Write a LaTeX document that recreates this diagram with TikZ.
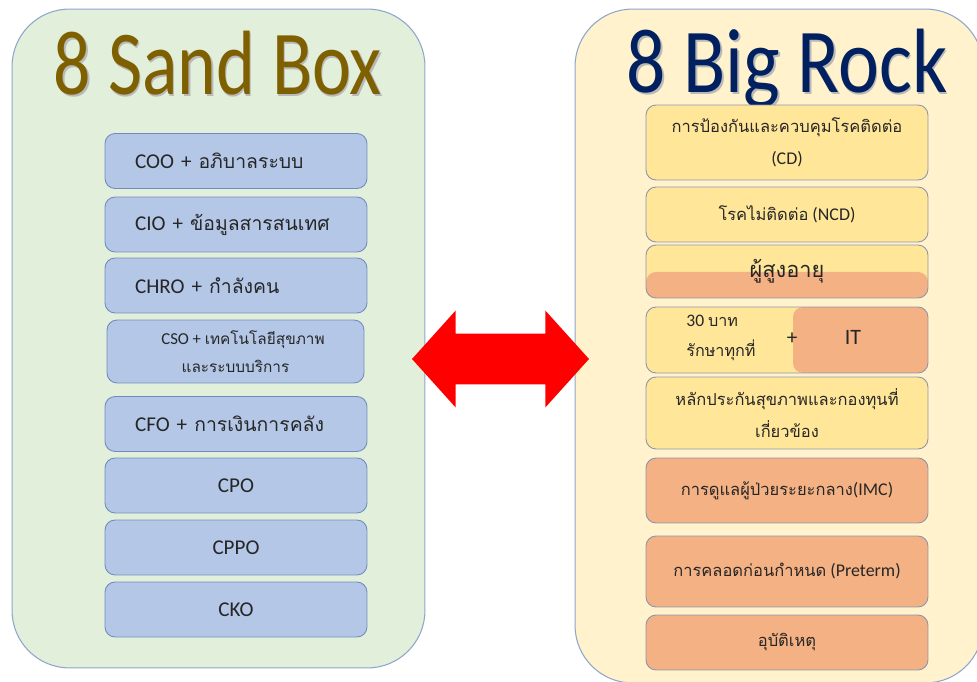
\documentclass[tikz,border=0pt]{standalone}
\usepackage{fontspec}
\usepackage{graphicx}
\setmainfont{Carlito}
\newfontfamily\thai[Script=Thai, Scale=0.92]{Loma}
\usepackage{tikz}
\usetikzlibrary{shapes.arrows, positioning}
\definecolor{sandbg}{RGB}{226,239,218}
\definecolor{rockbg}{RGB}{255,242,204}
\definecolor{panelline}{RGB}{143,166,204}
\definecolor{sandfill}{RGB}{180,199,231}
\definecolor{sandline}{RGB}{112,140,190}
\definecolor{rockyellow}{RGB}{255,230,153}
\definecolor{rocksalmon}{RGB}{244,177,131}
\definecolor{rockline}{RGB}{140,150,170}
\definecolor{sandtitle}{RGB}{127,96,0}
\definecolor{rocktitle}{RGB}{0,32,96}
\definecolor{textdark}{RGB}{38,38,38}
\definecolor{shade}{RGB}{185,185,185}
\tikzset{
  panel/.style={rectangle, draw=panelline, line width=0.6pt,
    rounded corners=1.15cm, inner sep=0pt},
  sandbox/.style={rectangle, draw=sandline, fill=sandfill,
    minimum width=5.24cm, minimum height=1.1cm, inner sep=0pt,
    rounded corners=0.2cm, line width=0.5pt, text=textdark,
    font=\fontsize{12}{14}\selectfont},
  leftpad/.style={text width=4.64cm, align=left, inner xsep=0.3cm,
    execute at begin node=\hspace*{0.3cm}},
  rockbox/.style={rectangle, draw=rockline, fill=rockyellow,
    minimum width=5.64cm, minimum height=1.1cm, inner sep=0pt,
    rounded corners=0.2cm, line width=0.5pt, text=textdark, align=center,
    font=\fontsize{10.2}{18.5}\selectfont},
  hottail/.style={path picture={\fill[rocksalmon]
    (path picture bounding box.south west) rectangle
    ([yshift=0.52cm]path picture bounding box.south east);}},
  hotside/.style={path picture={\fill[rocksalmon, rounded corners=0.2cm]
    ([xshift=-2.7cm]path picture bounding box.north east) rectangle
    (path picture bounding box.south east);}},
  title/.style={anchor=base, font=\fontsize{52}{60}\selectfont}
}
\begin{document}
\begin{tikzpicture}[x=0.02cm, y=-0.02cm]
  \useasboundingbox (0,0) rectangle (977,682);
  \fill[white] (0,0) rectangle (977,682);

  % Panels
  \node[panel, fill=sandbg, minimum width=8.26cm, minimum height=13.18cm] (sandpanel) at (218.5,338.5) {};
  \node[panel, fill=rockbg, minimum width=8.16cm, minimum height=13.48cm] (rockpanel) at (779,346) {};

  % Titles
  \node[title, text=shade] (sandshadow) at (219.5,96.5) {\scalebox{0.81}[1]{8 Sand Box}};
  \node[title, text=sandtitle] (sandtitle) at (218,95) {\scalebox{0.81}[1]{8 Sand Box}};
  \node[title, text=shade] (rockshadow) at (788.5,94.5) {\scalebox{0.85}[1]{8 Big Rock}};
  \node[title, text=rocktitle] (rocktitle) at (787,93) {\scalebox{0.85}[1]{8 Big Rock}};

  % Sand Box column
  \node[sandbox, leftpad] (coo) at (236,161) {COO + {\thai อภิบาลระบบ}};
  \node[sandbox, leftpad] (cio) at (236,224.5) {CIO + {\thai ข้อมูลสารสนเทศ}};
  \node[sandbox, leftpad] (chro) at (236,285.5) {CHRO + {\thai กำลังคน}};
  \node[sandbox, minimum width=5.14cm, minimum height=1.26cm, align=center,
    font=\fontsize{9.5}{16}\selectfont] (cso) at (235.5,351.5)
    {\hspace*{0.3cm}CSO + {\thai เทคโนโลยีสุขภาพ}\\{\thai และระบบบริการ}};
  \node[sandbox, leftpad] (cfo) at (236,424) {CFO + {\thai การเงินการคลัง}};
  \node[sandbox] (cpo) at (236,485.5) {CPO};
  \node[sandbox] (cppo) at (236,547.5) {CPPO};
  \node[sandbox] (cko) at (236,609.5) {CKO};

  % Big Rock column
  \node[rockbox, minimum height=1.5cm] (cd) at (787,142.5) {{\thai การป้องกันและควบคุมโรคติดต่อ}\\(CD)};
  \node[rockbox] (ncd) at (787,214.5) {{\thai โรคไม่ติดต่อ} (NCD)};
  \node[rockbox, hottail, minimum height=1.06cm] (elder) at (787,271.5) {};
  \node[font=\thai\fontsize{13.5}{14}\selectfont, text=textdark] (eldertext) at (elder.center) {ผู้สูงอายุ};
  \node[rockbox, hotside, minimum height=1.32cm] (uc) at (787,340) {};
  \node[anchor=west, align=left, text=textdark, inner sep=0pt,
    font=\fontsize{10}{17}\selectfont] (uctext) at (686,338) {30 {\thai บาท}\\{\thai รักษาทุกที่}};
  \node[text=textdark, font=\fontsize{12}{14}\selectfont] (ucplus) at (792,339) {+};
  \node[text=textdark, font=\fontsize{12.5}{14}\selectfont] (it) at (853,337) {IT};
  \node[rockbox, minimum height=1.44cm] (fund) at (787,413) {{\thai หลักประกันสุขภาพและกองทุนที่}\\{\thai เกี่ยวข้อง}};
  \node[rockbox, fill=rocksalmon, minimum height=1.3cm] (imc) at (787,490.5) {{\thai การดูแลผู้ป่วยระยะกลาง}(IMC)};
  \node[rockbox, fill=rocksalmon, minimum height=1.42cm] (preterm) at (787,571.5) {{\thai การคลอดก่อนกำหนด} (Preterm)};
  \node[rockbox, fill=rocksalmon] (accident) at (787,642.5) {{\thai อุบัติเหตุ}};

  % Link between the two sets
  \node[double arrow, fill=red, inner xsep=0pt, inner ysep=0.5cm,
    minimum height=3.54cm, double arrow head extend=0.46cm,
    double arrow tip angle=96] (link) at (500.5,359) {};
\end{tikzpicture}
\end{document}
